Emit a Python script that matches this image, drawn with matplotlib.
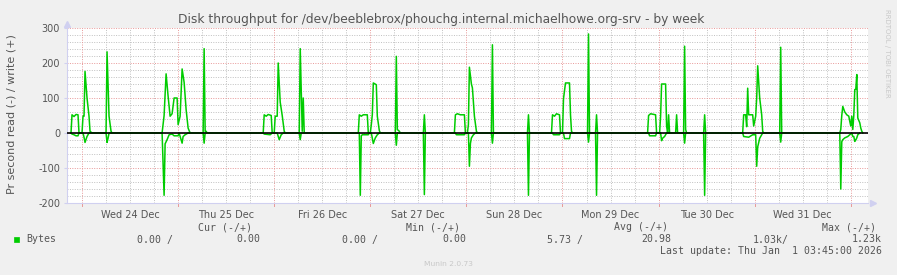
import matplotlib
matplotlib.use("Agg")
import matplotlib.pyplot as plt
from matplotlib.patches import Rectangle

# ---------------- data ----------------
title = "Disk throughput for /dev/beeblebrox/phouchg.internal.michaelhowe.org-srv - by week"
ylabel = "Pr second read (-) / write (+)"
day_labels = ["Wed 24 Dec", "Thu 25 Dec", "Fri 26 Dec", "Sat 27 Dec",
              "Sun 28 Dec", "Mon 29 Dec", "Tue 30 Dec", "Wed 31 Dec"]
day_label_hours = [12, 36, 60, 84, 108, 132, 156, 180]   # noon of each day, hours since Wed 24 Dec 00:00
midnight_hours = [0, 24, 48, 72, 96, 120, 144, 168, 192]
y_ticks = [-200, -100, 0, 100, 200, 300]

# write (+) series: hours since Wed 24 Dec 00:00, bytes/s
write_hours = [-2.75, -2.5, -2.0, -1.5, -1.0, -0.75,
               0.0, 0.25, 0.5, 0.75, 1.25, 1.75, 2.0, 2.5,
               6.0, 6.25, 6.75, 7.25, 7.5,
               20.0, 20.25, 20.5, 21.0, 21.5, 22.0, 22.5, 23.0, 23.75, 24.0, 24.5, 25.0, 25.5, 26.0, 26.5, 27.0,
               30.25, 30.5, 30.75, 31.0, 31.25,
               45.25, 45.5, 46.0, 46.5, 47.25, 47.5, 48.0, 48.25, 48.75, 49.0, 49.5, 50.0, 50.5, 50.75,
               54.25, 54.5, 55.0, 55.25, 55.5,
               69.0, 69.25, 69.75, 70.25, 71.25, 71.5, 72.0, 72.25, 72.5, 72.75, 73.5, 73.75, 74.25, 74.5,
               78.25, 78.5, 78.75, 79.25, 79.5,
               85.25, 85.5, 85.75,
               93.0, 93.25, 93.75, 94.5, 95.5, 95.75, 96.25, 96.5, 96.75, 97.25, 97.5, 98.0, 98.5, 98.75,
               102.25, 102.5, 102.75,
               111.25, 111.5, 111.75,
               117.25, 117.5, 118.0, 118.5, 119.25, 119.5, 120.0, 120.25, 120.75, 121.75, 122.0, 122.25, 122.5,
               126.25, 126.5, 126.75,
               128.25, 128.5, 128.75,
               141.25, 141.5, 142.0, 143.25, 143.5, 144.25, 144.5, 144.75, 145.75, 146.0, 146.25, 146.5, 146.75,
               148.25, 148.5, 148.75,
               150.25, 150.5, 150.75, 151.0,
               155.25, 155.5, 155.75,
               165.0, 165.25, 165.75, 166.0, 166.25, 166.5, 167.5, 167.75, 168.25, 168.5, 168.75, 169.25, 169.75, 170.0, 170.25,
               174.25, 174.5, 174.75,
               189.25, 189.5, 189.75, 190.0, 190.5, 191.0, 191.5, 191.75, 192.0, 192.25, 192.5, 192.75, 193.0, 193.25,
               193.5, 193.75, 194.25, 194.5, 194.75, 195.0]
write_bytes = [0, 52, 47, 53, 52, 0,
               0, 48, 48, 176, 100, 48, 5, 0,
               0, 232, 48, 5, 0,
               0, 25, 50, 169, 105, 48, 55, 100, 100, 24, 48, 183, 145, 67, 14, 0,
               0, 241, 5, 5, 0,
               0, 52, 48, 53, 50, 0, 0, 48, 48, 200, 88, 50, 5, 0,
               0, 241, 5, 100, 0,
               0, 52, 48, 52, 52, 0, 0, 24, 52, 143, 138, 48, 7, 0,
               0, 219, 10, 5, 0,
               0, 52, 0,
               0, 52, 55, 52, 52, 0, 0, 24, 188, 140, 129, 48, 5, 0,
               0, 252, 0,
               0, 52, 0,
               0, 52, 48, 55, 52, 0, 0, 98, 143, 143, 52, 5, 0,
               0, 283, 0,
               0, 52, 0,
               0, 50, 55, 52, 0, 0, 48, 140, 140, 20, 0, 52, 0,
               0, 52, 0,
               0, 248, 10, 0,
               0, 52, 0,
               0, 52, 52, 18, 128, 52, 52, 20, 48, 100, 192, 100, 52, 5, 0,
               0, 245, 0,
               0, 10, 50, 76, 60, 52, 48, 33, 20, 48, 10, 50, 124, 125,
               167, 43, 29, 14, 5, 0]

# read (-) series: hours since Wed 24 Dec 00:00, bytes/s (drawn below zero)
read_hours = [-2.75, -2.5, -2.0, -1.5, -1.0, -0.75,
              0.25, 0.5, 0.75, 1.25, 1.75,
              6.0, 6.25, 6.5, 6.75,
              20.0, 20.5, 20.75, 21.25, 21.75, 22.5, 23.0, 24.0, 24.25, 24.5, 25.0, 25.25, 25.75, 26.5,
              30.25, 30.5, 30.75,
              45.25, 45.5, 47.0, 47.5, 48.75, 49.25, 49.75, 50.25,
              54.25, 54.5, 54.75,
              69.25, 69.5, 69.75, 70.0, 71.5, 71.75, 72.25, 72.75, 73.25, 73.75, 74.25,
              78.25, 78.5, 78.75,
              85.25, 85.5, 85.75,
              93.25, 93.5, 95.5, 95.75, 96.5, 96.75, 97.0, 97.25, 97.75, 98.25,
              102.25, 102.5, 102.75,
              111.25, 111.5, 111.75,
              117.5, 117.75, 119.25, 119.5, 120.25, 120.5, 121.75, 122.0,
              126.25, 126.5, 126.75,
              128.25, 128.5, 128.75,
              141.5, 141.75, 143.25, 143.5, 144.5, 144.75, 145.0, 145.5, 146.0,
              150.25, 150.5, 150.75,
              155.25, 155.5, 155.75,
              165.0, 165.25, 166.5, 167.5, 168.25, 168.5, 168.75, 169.25, 169.75, 170.0,
              174.25, 174.5, 174.75,
              189.25, 189.5, 189.75, 190.0, 190.5, 191.25, 191.75, 192.25, 192.5, 192.75, 193.0, 193.25, 193.5,
              193.75, 194.25]
read_bytes = [0, 3, 5, 8, 8, 0,
              0, 12, 27, 10, 0,
              0, 27, 15, 0,
              0, 178, 31, 19, 5, 3, 8, 8, 0, 10, 29, 10, 5, 0,
              0, 29, 0,
              0, 3, 5, 0, 0, 19, 5, 0,
              0, 19, 0,
              0, 178, 8, 5, 5, 0, 0, 30, 14, 5, 0,
              0, 35, 0,
              0, 176, 0,
              0, 5, 5, 0, 0, 95, 30, 14, 5, 0,
              0, 29, 0,
              0, 178, 0,
              0, 5, 5, 0, 0, 16, 16, 0,
              0, 26, 0,
              0, 178, 0,
              0, 8, 8, 0, 0, 22, 15, 10, 0,
              0, 29, 0,
              0, 178, 0,
              0, 10, 12, 5, 5, 95, 40, 15, 5, 0,
              0, 26, 0,
              0, 160, 25, 19, 14, 10, 5, 0, 10, 10, 24, 20, 14,
              5, 0]

legend_name = "Bytes"
legend_headers = ["Cur (-/+)", "Min (-/+)", "Avg (-/+)", "Max (-/+)"]
legend_values = ["0.00 /", "0.00", "0.00 /", "0.00", "5.73 /", "20.98", "1.03k/", "1.23k"]
last_update = "Last update: Thu Jan  1 03:45:00 2026"
version_text = "Munin 2.0.73"
side_text = "RRDTOOL / TOBI OETIKER"

# ---------------- drawing ----------------
W, H = 897, 275
GREEN = "#00CC00"
TXT = "#555555"

fig = plt.figure(figsize=(W / 100, H / 100), dpi=100, facecolor="#F0F0F0")
x0, x1, ytop, ybot = 67, 868, 28, 203
ax = fig.add_axes([x0 / W, 1 - ybot / H, (x1 - x0) / W, (ybot - ytop) / H])
ax.set_facecolor("white")
ax.set_xlim(-3.75, 196.3)
ax.set_ylim(-200, 300)

# grid
for yv in range(-200, 301, 20):
    if yv % 100 != 0:
        ax.axhline(yv, color="#C0C0C0", lw=0.7, ls=(0, (1, 1.5)), zorder=1)
for hv in range(0, 197, 6):
    if hv % 24 != 0:
        ax.axvline(hv, color="#C0C0C0", lw=0.7, ls=(0, (1, 1.5)), zorder=1)
for yv in y_ticks:
    ax.axhline(yv, color="#E89898", lw=0.7, ls=(0, (1, 1.5)), zorder=1.1)
for hv in midnight_hours:
    ax.axvline(hv, color="#E89898", lw=0.7, ls=(0, (1, 1.5)), zorder=1.1)
    ax.plot([hv, hv], [-200, -208], color="#E89898", lw=0.7, clip_on=False)

# data
ax.plot(write_hours, write_bytes, color=GREEN, lw=1.1, zorder=3)
ax.plot(read_hours, [-v for v in read_bytes], color=GREEN, lw=1.1, zorder=3)
ax.axhline(0, color="black", lw=1.2, zorder=4)

# spines / arrows
for s in ["top", "right"]:
    ax.spines[s].set_visible(False)
for s in ["left", "bottom"]:
    ax.spines[s].set_color("#D0D0F0")
    ax.spines[s].set_linewidth(0.8)
ax.plot([-3.75], [312], marker="^", color="#D0D0F0", ms=4, clip_on=False)
ax.plot([197.6], [-200], marker=">", color="#D0D0F0", ms=4, clip_on=False)

ax.set_yticks(y_ticks)
ax.set_yticklabels([str(v) for v in y_ticks])
ax.set_xticks(day_label_hours)
ax.set_xticklabels(day_labels)
ax.tick_params(axis="y", length=2, color="#D0D0F0", labelsize=7, labelcolor=TXT, pad=3)
ax.tick_params(axis="x", length=0, labelsize=7, labelcolor=TXT, pad=5)

# texts
fig.text(441 / W, 1 - 19 / H, title, ha="center", va="center", fontsize=8.8, color=TXT)
fig.text(12 / W, 1 - 114 / H, ylabel, ha="center", va="center", rotation=90, fontsize=8, color=TXT)
fig.text(887 / W, 1 - 53 / H, side_text, ha="center", va="center", rotation=270, fontsize=5, color="#C8C8C8")

mono = "DejaVu Sans Mono"
fs = 7.1
header_right = [252, 460, 668, 876]
for txt, xr in zip(legend_headers, header_right):
    fig.text(xr / W, 1 - 227.5 / H, txt, ha="right", va="center", family=mono, fontsize=fs, color=TXT)
fig.patches.append(Rectangle((14 / W, 1 - 242 / H), 5 / W, 5 / H, transform=fig.transFigure,
                             facecolor=GREEN, edgecolor=GREEN, lw=0.5))
fig.text(26 / W, 1 - 239.5 / H, legend_name, ha="left", va="center", family=mono, fontsize=fs, color=TXT)
value_right = [173, 260, 378, 466.7, 583, 671, 789, 882]
for txt, xr in zip(legend_values, value_right):
    fig.text(xr / W, 1 - 239.5 / H, txt, ha="right", va="center", family=mono, fontsize=fs, color=TXT)
fig.text(882 / W, 1 - 251.5 / H, last_update, ha="right", va="center", family=mono, fontsize=fs, color=TXT)
fig.text(448 / W, 1 - 264 / H, version_text, ha="center", va="center", fontsize=5.4, color="#C8C8C8")

fig.savefig("out.png", dpi=100, facecolor=fig.get_facecolor())
